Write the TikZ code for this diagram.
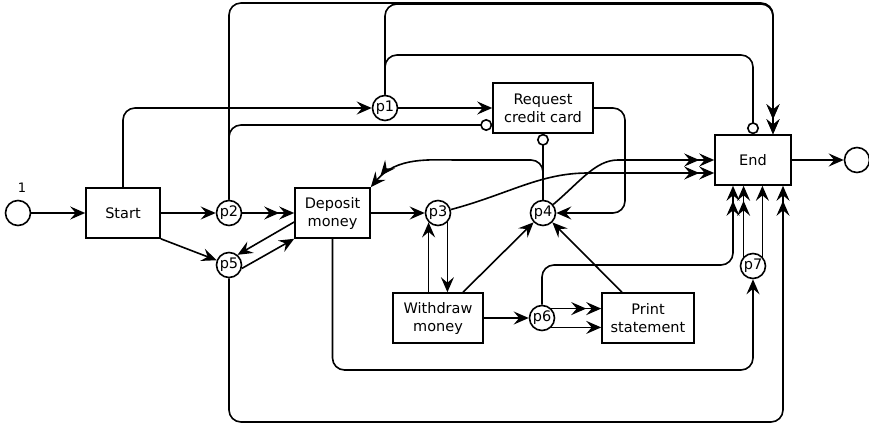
\documentclass[tikz,border=0pt]{standalone}
\usepackage{fontspec}
\setmainfont{DejaVu Sans}
\usetikzlibrary{arrows.meta}

\begin{document}
\begin{tikzpicture}[x=1pt,y=1pt,line width=1.6pt,
  font=\fontsize{14.5}{18}\selectfont,
  task/.style={draw,minimum height=50pt,align=center,inner sep=0pt},
  place/.style={circle,draw,minimum size=25pt,inner sep=0pt},
  flow/.style={rounded corners=12pt,-{Stealth[length=15pt,width=13pt,inset=5.5pt]}},
  dflow/.style={rounded corners=12pt,-{Stealth[length=15pt,width=13pt,inset=5.5pt]Stealth[length=15pt,width=13pt,inset=5.5pt]}},
  neg/.style={rounded corners=12pt,-{Circle[open,length=12pt]}}]

  \useasboundingbox (0,0) rectangle (869,426);

  % tasks and places
  \node[place] (init) at (18,213) {};
  \node[font=\fontsize{13}{15}\selectfont] (one) at (22,238) {1};
  \node[task,minimum width=74pt] (start) at (123,213) {Start};
  \node[place] (p2) at (229,213) {p2};
  \node[place] (p5) at (229,161) {p5};
  \node[task,minimum width=75pt] (dep) at (332.5,213) {Deposit\\money};
  \node[place] (p1) at (385,318) {p1};
  \node[task,minimum width=100pt] (req) at (543,318) {Request\\credit card};
  \node[place] (p3) at (438,213) {p3};
  \node[place] (p4) at (543,213) {p4};
  \node[task,minimum width=76pt] (endtask) at (753,266) {End};
  \node[place] (fin) at (857,266) {};
  \node[task,minimum width=90pt] (wd) at (438,108) {Withdraw\\money};
  \node[place] (p6) at (542,108) {p6};
  \node[task,minimum width=92pt] (ps) at (648,108) {Print\\statement};
  \node[place] (p7) at (753,160) {p7};

  % from start
  \draw[flow] (init) -- (start);
  \draw[flow] (start) -- (p2);
  \draw[flow] (start.south east) -- (p5);
  \draw[flow] (start.north) |- (p1);

  % p1 and p2
  \draw[flow] (p1) -- (req);
  \draw[dflow] (p1.north) |- (773,422) -- ([xshift=20pt]endtask.north);
  \draw[neg] (p1.north) |- (753,371) -- (endtask.north);
  \draw[dflow] (p2) -- (dep);
  \draw[dflow] (p2.north) |- (773,423) -- ([xshift=20pt]endtask.north);
  \draw[neg] (p2.north) |- ([yshift=-17pt]req.west);

  % deposit, p3, p5
  \draw[flow] ([yshift=-9pt]dep.west) -- (p5.50);
  \draw[flow] (p5.-15) -- (dep.south west);
  \draw[flow] (dep) -- (p3);
  \draw[flow] (p3.-45) -- (p3.-45 |- wd.north);
  \draw[flow] (wd.north -| p3.-135) -- (p3.-135);
  \draw[dflow] (p3) to[out=15,in=180] (600,253) -- ([yshift=-13pt]endtask.west);

  % p4
  \draw[flow] ([xshift=25pt]wd.north) -- (p4);
  \draw[flow] ([xshift=-26pt]ps.north) -- (p4);
  \draw[flow] (req.east) -| (625,213) -- (p4);
  \draw[neg] (p4) -- (req);
  \draw[dflow] (p4.north) |- (470,266) to[out=180,in=50] (dep.north east);
  \draw[dflow] (p4) to[out=40,in=180] (630,266) -- (endtask);

  % withdraw, p6, p7
  \draw[flow] (wd) -- (p6);
  \draw[dflow] (p6.45) -- (p6.45 -| ps.west);
  \draw[flow] (p6.-45) -- (p6.-45 -| ps.west);
  \draw[dflow] (p6.north) |- (733,161) -- ([xshift=-20pt]endtask.south);
  \draw[flow] (dep.south) |- (753,56) -- (p7);
  \draw[dflow] (p7.135) -- (p7.135 |- endtask.south);
  \draw[flow] (p7.45) -- (p7.45 |- endtask.south);
  \draw[dflow] (p5.south) |- (783,4) -- ([xshift=30pt]endtask.south);

  \draw[flow] (endtask) -- (fin);
\end{tikzpicture}
\end{document}
